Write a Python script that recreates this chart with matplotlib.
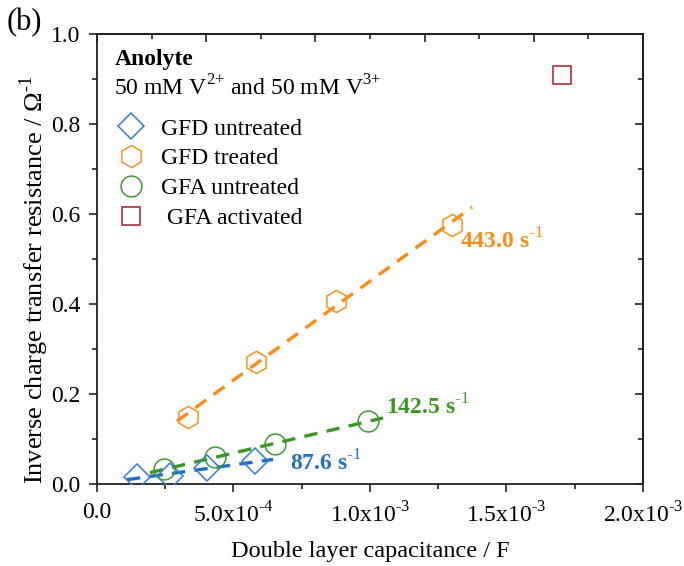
import matplotlib
matplotlib.use("Agg")
import matplotlib.pyplot as plt
import numpy as np
from matplotlib.ticker import MultipleLocator, FuncFormatter, NullFormatter

plt.rcParams['font.family'] = ['Liberation Serif', 'DejaVu Serif']
plt.rcParams['mathtext.fontset'] = 'custom'
plt.rcParams['mathtext.rm'] = 'Liberation Serif'
plt.rcParams['mathtext.bf'] = 'Liberation Serif:bold'

# data (capacitance in F, inverse resistance in 1/Ohm)
gfd_untr_x = [0.147e-3, 0.268e-3, 0.403e-3, 0.580e-3]
gfd_untr_y = [0.016, 0.018, 0.035, 0.050]
gfd_tr_x = [0.333e-3, 0.582e-3, 0.874e-3, 1.300e-3]
gfd_tr_y = [0.149, 0.271, 0.407, 0.575]
gfa_untr_x = [0.245e-3, 0.432e-3, 0.652e-3, 0.993e-3]
gfa_untr_y = [0.033, 0.060, 0.088, 0.140]
gfa_act_x = [1.703e-3]
gfa_act_y = [0.909]

# fit line ranges and slope labels
blue_fit_range = [0.11e-3, 0.645e-3]
orange_fit_range = [0.293e-3, 1.374e-3]
green_fit_range = [0.194e-3, 1.048e-3]
slope_labels = [r"87.6 s$^{\text{-1}}$", r"443.0 s$^{\text{-1}}$", r"142.5 s$^{\text{-1}}$"]
legend_labels = ["GFD untreated", "GFD treated", "GFA untreated", " GFA activated"]

c_blue = '#2f7fd2'
c_blue_line = '#1f6fc8'
c_orange = '#f7931e'
c_orange_line = '#ff8a14'
c_green = '#3f9a35'
c_green_line = '#3a981f'
c_red = '#a8343c'

FS = 17

fig = plt.figure(figsize=(6.84, 5.66), dpi=100)
ax = fig.add_axes([0.1418, 0.1449, 0.7982, 0.7951])

dash = (0, (4, 2.8))
for xs, ys, rng, col in [(gfd_untr_x, gfd_untr_y, blue_fit_range, c_blue_line),
                         (gfd_tr_x, gfd_tr_y, orange_fit_range, c_orange_line),
                         (gfa_untr_x, gfa_untr_y, green_fit_range, c_green_line)]:
    k, b = np.polyfit(xs, ys, 1)
    xx = np.array(rng)
    ax.plot(xx, k * xx + b, linestyle=dash, color=col, lw=2.4, zorder=2)

h1, = ax.plot(gfd_untr_x, gfd_untr_y, 'D', ms=13, mfc='none', mec=c_blue, mew=1.1, ls='none', zorder=3)
h2, = ax.plot(gfd_tr_x, gfd_tr_y, 'h', ms=16, mfc='none', mec=c_orange, mew=1.1, ls='none', zorder=3)
h3, = ax.plot(gfa_untr_x, gfa_untr_y, 'o', ms=15, mfc='none', mec=c_green, mew=1.1, ls='none', zorder=3)
h4, = ax.plot(gfa_act_x, gfa_act_y, 's', ms=12.5, mfc='none', mec=c_red, mew=1.2, ls='none', zorder=3)

ax.set_xlim(0, 2.0e-3)
ax.set_ylim(0, 1.0)
ax.xaxis.set_major_locator(MultipleLocator(0.5e-3))
ax.xaxis.set_minor_locator(MultipleLocator(0.25e-3))
ax.yaxis.set_major_locator(MultipleLocator(0.2))
ax.yaxis.set_minor_locator(MultipleLocator(0.1))


def xfmt(v, pos):
    if abs(v) < 1e-12:
        return "0.0"
    e = int(np.floor(np.log10(abs(v)) + 1e-9))
    m = v / 10 ** e
    return r"%.1fx10$^{\text{%d}}$" % (m, e)


ax.xaxis.set_major_formatter(FuncFormatter(xfmt))
ax.yaxis.set_major_formatter(FuncFormatter(lambda v, p: "%.1f" % v))
ax.tick_params(which='both', direction='out', labelsize=FS, width=1.2, color='#222222')
ax.tick_params(which='major', length=6)
ax.tick_params(which='minor', length=3.5)
ax.tick_params(axis='x', pad=7)
ax.tick_params(axis='y', pad=6)
for s in ax.spines.values():
    s.set_linewidth(1.3)
    s.set_color('#222222')

# mirrored axes on top and right with inward ticks
top = ax.secondary_xaxis('top')
top.xaxis.set_major_locator(MultipleLocator(0.4e-3))
top.xaxis.set_minor_locator(MultipleLocator(0.2e-3))
top.xaxis.set_major_formatter(NullFormatter())
top.tick_params(which='both', direction='in', width=1.2, color='#222222')
top.tick_params(which='major', length=6)
top.tick_params(which='minor', length=3.5)
top.spines['top'].set_linewidth(1.3)

right = ax.secondary_yaxis('right')
right.yaxis.set_major_locator(MultipleLocator(0.2))
right.yaxis.set_minor_locator(MultipleLocator(0.1))
right.yaxis.set_major_formatter(NullFormatter())
right.tick_params(which='both', direction='in', width=1.2, color='#222222')
right.tick_params(which='major', length=6)
right.tick_params(which='minor', length=3.5)
right.spines['right'].set_linewidth(1.3)

ax.set_xlabel("Double layer capacitance / F", fontsize=17.5, labelpad=10)
ax.set_ylabel(r"Inverse charge transfer resistance / $\Omega^{\text{-1}}$", fontsize=19, labelpad=0)
ax.yaxis.set_label_coords(-0.085, 0.455)

ax.text(0.706e-3, 0.047, slope_labels[0], color=c_blue_line, fontsize=FS, fontweight='bold', va='center')
ax.text(1.33e-3, 0.540, slope_labels[1], color=c_orange_line, fontsize=FS, fontweight='bold', va='center')
ax.text(1.06e-3, 0.172, slope_labels[2], color=c_green_line, fontsize=FS, fontweight='bold', va='center')

ax.text(0.032, 0.944, "Anolyte", transform=ax.transAxes, fontsize=FS, fontweight='bold', va='center')
ax.text(0.032, 0.881, r"50 mM V$^{\text{2+}}$ and 50 mM V$^{\text{3+}}$", transform=ax.transAxes,
        fontsize=FS, va='center')

ax.legend([h1, h2, h3, h4], legend_labels,
          loc='upper left', bbox_to_anchor=(0.0, 0.85), frameon=False, fontsize=FS,
          handletextpad=0.5, labelspacing=0.35, borderaxespad=0.3, handlelength=1.5)

fig.text(0.010, 0.960, "(b)", fontsize=22, va='center')

fig.savefig("out.png", dpi=100)
